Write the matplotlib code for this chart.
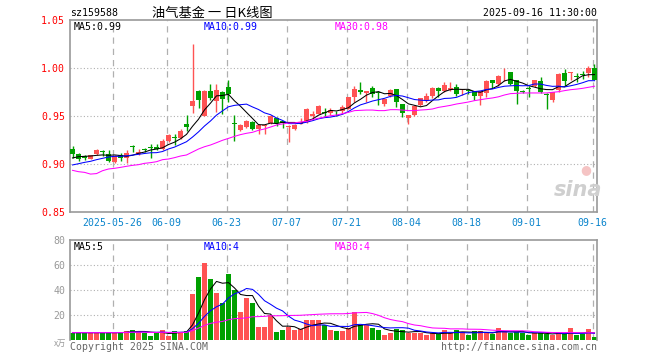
import numpy as np
import pandas as pd
import matplotlib
matplotlib.use("Agg")
import matplotlib.pyplot as plt

# ---- data ----
open_ = [0.916, 0.910, 0.908, 0.9056, 0.910, 0.9125, 0.910, 0.902, 0.909, 0.906,
         0.9178, 0.910, 0.915, 0.9168, 0.918, 0.916, 0.924, 0.9275, 0.927, 0.942,
         0.960, 0.976, 0.950, 0.976, 0.966, 0.975, 0.980, 0.9422, 0.935, 0.939,
         0.944, 0.936, 0.940, 0.943, 0.9476, 0.9444, 0.9385, 0.9365, 0.942, 0.9434,
         0.9497, 0.9524, 0.954, 0.9531, 0.9556, 0.9552, 0.9573, 0.9698, 0.9774, 0.9740,
         0.9788, 0.9742, 0.9628, 0.9705, 0.9785, 0.9628, 0.9479, 0.951, 0.9618, 0.9663,
         0.9712, 0.9792, 0.9757, 0.9774, 0.9802, 0.9767, 0.9765, 0.9757, 0.9705, 0.974,
         0.9872, 0.9837, 0.9944, 0.9962, 0.9878, 0.9757, 0.9787, 0.9816, 0.9865, 0.9725,
         0.967, 0.9767, 0.9948, 0.9945, 0.992, 0.9935, 0.9948, 1.0003]
high = [0.919, 0.911, 0.909, 0.9095, 0.916, 0.915, 0.915, 0.909, 0.911, 0.915,
        0.920, 0.916, 0.917, 0.921, 0.921, 0.926, 0.931, 0.931, 0.936, 0.951,
        1.025, 0.977, 0.977, 0.983, 0.983, 0.976, 0.988, 0.951, 0.942, 0.946,
        0.945, 0.9417, 0.942, 0.951, 0.949, 0.945, 0.941, 0.942, 0.948, 0.958,
        0.955, 0.961, 0.958, 0.958, 0.9556, 0.961, 0.970, 0.981, 0.985, 0.9764,
        0.9812, 0.9757, 0.9677, 0.978, 0.9785, 0.963, 0.9514, 0.961, 0.969, 0.974,
        0.980, 0.980, 0.985, 0.9858, 0.9837, 0.978, 0.978, 0.9765, 0.9765, 0.987,
        0.9872, 0.993, 1.0003, 0.9962, 0.988, 0.977, 0.981, 0.988, 0.991, 0.974,
        0.975, 0.995, 0.9993, 0.996, 0.995, 0.997, 1.0024, 1.004]
low = [0.906, 0.903, 0.904, 0.905, 0.909, 0.908, 0.902, 0.901, 0.903, 0.901,
       0.913, 0.909, 0.913, 0.906, 0.915, 0.915, 0.923, 0.920, 0.926, 0.934,
       0.953, 0.958, 0.950, 0.967, 0.954, 0.952, 0.965, 0.924, 0.934, 0.938,
       0.935, 0.9316, 0.9316, 0.942, 0.940, 0.938, 0.9226, 0.935, 0.942, 0.943,
       0.948, 0.952, 0.9486, 0.951, 0.950, 0.953, 0.957, 0.965, 0.973, 0.965,
       0.970, 0.9618, 0.9604, 0.9694, 0.959, 0.9486, 0.9417, 0.950, 0.960, 0.965,
       0.969, 0.970, 0.9747, 0.9757, 0.9712, 0.9722, 0.973, 0.967, 0.9618, 0.970,
       0.979, 0.981, 0.986, 0.982, 0.9625, 0.974, 0.970, 0.980, 0.974, 0.9576,
       0.965, 0.975, 0.981, 0.987, 0.985, 0.989, 0.991, 0.987]
close = [0.910, 0.905, 0.906, 0.909, 0.915, 0.9122, 0.903, 0.908, 0.906, 0.911,
         0.9175, 0.913, 0.9148, 0.9165, 0.916, 0.924, 0.930, 0.9272, 0.934, 0.939,
         0.966, 0.967, 0.976, 0.969, 0.977, 0.968, 0.973, 0.9418, 0.941, 0.945,
         0.9365, 0.9405, 0.941, 0.950, 0.9427, 0.9427, 0.940, 0.941, 0.9434, 0.9573,
         0.9524, 0.960, 0.9533, 0.9559, 0.9548, 0.9597, 0.9694, 0.9785, 0.9747, 0.9764,
         0.9733, 0.9740, 0.9674, 0.9767, 0.9646, 0.953, 0.9514, 0.960, 0.9688, 0.9712,
         0.9792, 0.9757, 0.9823, 0.9792, 0.9733, 0.978, 0.9762, 0.9705, 0.9757, 0.9861,
         0.9844, 0.992, 0.9948, 0.9833, 0.9764, 0.9753, 0.9783, 0.9872, 0.9747, 0.9722,
         0.9747, 0.994, 0.9865, 0.995, 0.9906, 0.9932, 0.9997, 0.9872]
volume = [5.9, 5.9, 5.9, 5.9, 5.9, 5.9, 5.9, 5.9, 5.9, 7.2,
          8.0, 7.2, 5.9, 3.2, 5.9, 8.0, 3.2, 7.2, 5.9, 7.2,
          36.8, 50.1, 61.3, 48.5, 37.6, 29.6, 52.5, 40.0, 22.4, 33.3,
          29.6, 10.4, 10.4, 20.0, 6.4, 8.0, 10.7, 8.0, 9.0, 15.7,
          15.7, 15.7, 11.7, 8.0, 7.2, 7.2, 9.9, 22.4, 11.7, 11.7,
          9.3, 8.0, 3.7, 5.6, 8.5, 7.7, 5.9, 5.9, 5.9, 3.7,
          5.3, 4.5, 7.7, 5.9, 7.7, 6.7, 3.7, 6.9, 6.9, 5.9,
          4.5, 9.3, 7.2, 5.9, 6.4, 5.9, 3.7, 5.9, 5.9, 5.0,
          3.7, 5.9, 4.5, 9.3, 3.7, 4.5, 8.5, 2.1]
ma30 = [0.8934, 0.892, 0.8913, 0.8895, 0.890, 0.893, 0.8948, 0.8955, 0.8965, 0.8976,
        0.8986, 0.8993, 0.9007, 0.9014, 0.9024, 0.9045, 0.9052, 0.9066, 0.9083, 0.9094,
        0.9125, 0.9156, 0.918, 0.9198, 0.9222, 0.9247, 0.9267, 0.9288, 0.9306, 0.932,
        0.933, 0.9351, 0.9365, 0.9385, 0.9406, 0.9417, 0.9427, 0.9428, 0.9438, 0.9444,
        0.9462, 0.9476, 0.949, 0.9503, 0.951, 0.9524, 0.9538, 0.9556, 0.9559, 0.9562,
        0.9562, 0.9556, 0.9556, 0.9566, 0.9566, 0.9562, 0.9556, 0.9556, 0.9562, 0.9566,
        0.9573, 0.959, 0.960, 0.9611, 0.9625, 0.9635, 0.9646, 0.966, 0.967, 0.968,
        0.9688, 0.970, 0.9719, 0.9733, 0.9736, 0.974, 0.974, 0.974, 0.974, 0.974,
        0.9747, 0.9753, 0.9764, 0.9774, 0.978, 0.9788, 0.9799, 0.981]
# first values of MA5 / MA10 (also need earlier closes)
ma5_head = [0.9063, 0.9076, 0.908, 0.9083]
ma10_head = [0.899, 0.9003, 0.9017, 0.9028, 0.9045, 0.9059, 0.9073, 0.908, 0.908]

tick_dates = ["2025-05-26", "2025-06-09", "2025-06-23", "2025-07-07", "2025-07-21",
              "2025-08-04", "2025-08-18", "2025-09-01", "2025-09-16"]
price_ticks = [0.85, 0.90, 0.95, 1.00, 1.05]
vol_ticks = [20, 40, 60, 80]

# trading days (Dragon Boat holiday on 06-02)
days = pd.bdate_range("2025-05-15", "2025-09-16")
days = days[days != pd.Timestamp("2025-06-02")]

RED = "#ff5353"
GREEN = "#00a000"
GRID = "#b0b0b0"
MONO = "DejaVu Sans Mono"

o = np.array(open_); h = np.array(high); l = np.array(low); c = np.array(close)
v = np.array(volume)
x = np.arange(len(c))
colors = np.where(c >= o, RED, GREEN)

ma5 = pd.Series(c).rolling(5).mean().values
ma5[:len(ma5_head)] = ma5_head
ma10 = pd.Series(c).rolling(10).mean().values
ma10[:len(ma10_head)] = ma10_head
vs = pd.Series(v)
vma5 = vs.rolling(5, min_periods=1).mean()
vma10 = vs.rolling(10, min_periods=1).mean()
vma30 = vs.rolling(30, min_periods=1).mean()

W, H = 660, 360


def fx(px):
    return px / W


def fy(py):
    return 1 - py / H


fig = plt.figure(figsize=(6.6, 3.6), dpi=100)
fig.patch.set_facecolor("white")

ax = fig.add_axes([fx(70), fy(212), fx(527), 192 / H])
axv = fig.add_axes([fx(70), fy(340), fx(527), 100 / H])

xmin, xmax = -2.5 / 6, 524.5 / 6
tick_pos = [days.get_loc(pd.Timestamp(d)) - 0.3 for d in tick_dates]
tick_lab = [tick_dates[0]] + [d[5:] for d in tick_dates[1:]]

# ---- price panel ----
for yv in price_ticks[1:-1]:
    ax.axhline(yv, color=GRID, lw=0.8, ls=(0, (1, 2)), zorder=0)
for tp in tick_pos:
    ax.axvline(tp, color=GRID, lw=0.9, ls=(0, (5, 4)), zorder=0)

ax.vlines(x, l, h, colors=colors, lw=1.0, zorder=2)
body = np.maximum(np.abs(c - o), 0.0009)
ax.bar(x, body, bottom=np.minimum(o, c), width=0.8, color=colors, lw=0, zorder=3)

ax.plot(x, ma5, color="black", lw=0.75, zorder=4)
ax.plot(x, ma10, color="#0000ff", lw=0.75, zorder=4)
ax.plot(x, ma30, color="#ff00ff", lw=0.75, zorder=4)

ax.set_xlim(xmin, xmax)
ax.set_ylim(0.85, 1.05)
ax.set_yticks(price_ticks)
ax.set_yticklabels([f"{t:.2f}" for t in price_ticks], color="#ff0000",
                   family=MONO, fontsize=7.1)
ax.set_xticks(tick_pos)
ax.set_xticklabels(tick_lab, color="#0a84cc", family=MONO, fontsize=7.1)
ax.tick_params(length=0, pad=3.5)
ax.tick_params(axis="x", pad=4)
for s in ax.spines.values():
    s.set_color("#999999")
    s.set_linewidth(1.2)

fig.text(fx(74), fy(27), "MA5:0.99", fontsize=7.1, family=MONO, color="black", va="center")
fig.text(fx(204), fy(27), "MA10:0.99", fontsize=7.1, family=MONO, color="#0000ff", va="center")
fig.text(fx(335), fy(27), "MA30:0.98", fontsize=7.1, family=MONO, color="#ff00ff", va="center")

# sina watermark
fig.text(fx(578), fy(190), "sina", fontsize=15, family="DejaVu Sans", style="italic",
         weight="bold", color="#cfcfcf", ha="center", va="center")
fig.text(fx(586), fy(170), "\u25cf", fontsize=9, color="#f5c4c4", ha="center", va="center")

# ---- volume panel ----
for yv in vol_ticks[:-1]:
    axv.axhline(yv, color=GRID, lw=0.8, ls=(0, (1, 2)), zorder=0)
for tp in tick_pos:
    axv.axvline(tp, color=GRID, lw=0.9, ls=(0, (5, 4)), zorder=0)
axv.bar(x, v, width=0.8, color=colors, lw=0, zorder=2)
axv.plot(x, vma5, color="black", lw=0.75, zorder=3)
axv.plot(x, vma10, color="#0000ff", lw=0.75, zorder=3)
axv.plot(x, vma30, color="#ff00ff", lw=0.75, zorder=3)
axv.set_xlim(xmin, xmax)
axv.set_ylim(0, 80)
axv.set_yticks(vol_ticks)
axv.set_yticklabels([str(t) for t in vol_ticks], color="#999999", family=MONO, fontsize=7.1)
axv.set_xticks([])
axv.tick_params(length=0, pad=3.5)
for s in axv.spines.values():
    s.set_color("#999999")
    s.set_linewidth(1.2)
axv.spines["bottom"].set_visible(False)

fig.text(fx(74), fy(247), "MA5:5", fontsize=7.1, family=MONO, color="black", va="center")
fig.text(fx(204), fy(247), "MA10:4", fontsize=7.1, family=MONO, color="#0000ff", va="center")
fig.text(fx(335), fy(247), "MA30:4", fontsize=7.1, family=MONO, color="#ff00ff", va="center")
fig.text(fx(66), fy(343), "x万", fontsize=6, family=["Noto Sans CJK SC", MONO],
         color="#999999", ha="right", va="center")

# ---- header / footer ----
fig.text(fx(70), fy(13), "sz159588", fontsize=7.1, family=MONO, va="center")
fig.text(fx(212), fy(13), "油气基金 一 日K线图", fontsize=9.5,
         family=["Noto Sans CJK SC", "DejaVu Sans"], ha="center", va="center")
fig.text(fx(597), fy(13), "2025-09-16 11:30:00", fontsize=7.1, family=MONO,
         ha="right", va="center")
fig.text(fx(70), fy(347), "Copyright 2025 SINA.COM", fontsize=7.1, family=MONO,
         color="#666666", va="center")
fig.text(fx(597), fy(347), "http://finance.sina.com.cn", fontsize=7.1, family=MONO,
         color="#666666", ha="right", va="center")

fig.savefig("out.png", dpi=100)
